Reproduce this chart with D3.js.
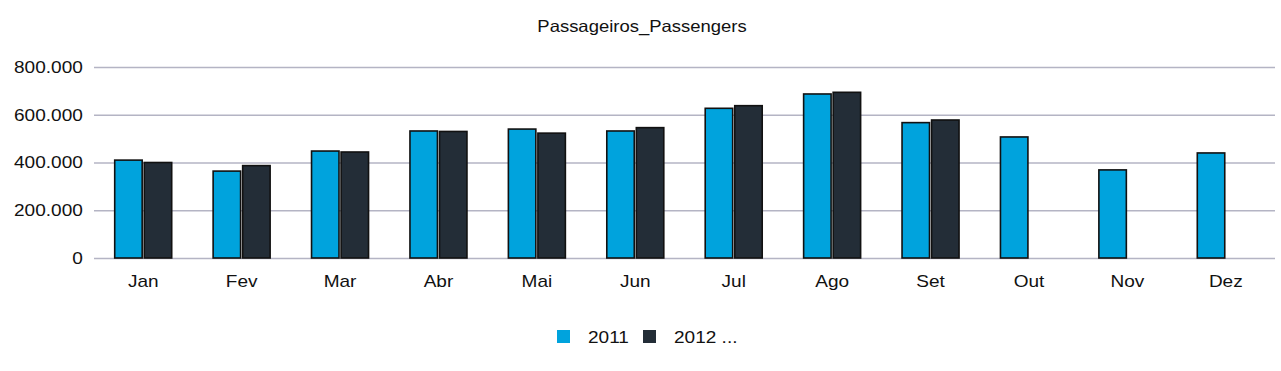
<!DOCTYPE html>
<html><head><meta charset="utf-8">
<script src="https://cdn.jsdelivr.net/npm/d3@7"></script>
<style>body{margin:0;background:#fff;}svg{display:block;font-family:"Liberation Sans",Arial,sans-serif;}</style>
</head><body>
<svg id="c" width="1281" height="371"></svg>
<script>
const categories = ["Jan","Fev","Mar","Abr","Mai","Jun","Jul","Ago","Set","Out","Nov","Dez"];
const seriesNames = ["2011","2012 ..."];
const values2011 = [410000,364000,448000,532000,540000,532000,627000,687000,567000,507000,369000,440000];
const values2012 = [400000,387000,444000,530000,523000,546000,638000,694000,578000,null,null,null];
const yTicks = [0,200000,400000,600000,800000];
const colors = ["#00A3DD","#232D37"];

const svg = d3.select("#c");
const m = {l:94, r:1275, t:67, b:258};
const sx = 1.12;
const x = d3.scaleBand().domain(categories).range([m.l, m.r]);
const y = d3.scaleLinear().domain([0,800000]).range([m.b, m.t]);
const fmt = v => d3.format(",")(v).replace(/,/g,".");

svg.append("text").attr("transform",`translate(642,32) scale(${sx},1)`).attr("text-anchor","middle")
  .attr("font-size",16.5).attr("fill","#111").text("Passageiros_Passengers");

const yAxis = svg.append("g").attr("transform",`translate(${m.l},0)`)
  .call(d3.axisLeft(y).tickValues(yTicks).tickFormat(fmt).tickSize(-(m.r-m.l)).tickPadding(10));
yAxis.select(".domain").remove();
yAxis.selectAll(".tick line").attr("stroke","#b4b4c4").attr("stroke-width",1.3);
yAxis.selectAll(".tick text").attr("font-size",17).attr("fill","#111")
  .attr("font-family","Liberation Sans, Arial, sans-serif").attr("transform",`scale(${sx},1)`);

const xAxis = svg.append("g").attr("transform",`translate(0,${m.b})`)
  .call(d3.axisBottom(x).tickSize(0).tickPadding(17));
xAxis.select(".domain").remove();
xAxis.selectAll(".tick text").attr("font-size",17).attr("fill","#111")
  .attr("font-family","Liberation Sans, Arial, sans-serif").attr("transform",`scale(${sx},1)`);

const sub = d3.scaleBand().domain([0,1]).range([0,57]).paddingInner(0.07);
const off = (x.bandwidth()-57)/2;
const series = [values2011, values2012];
series.forEach((vals,si)=>{
  svg.append("g").selectAll("rect")
    .data(categories.map((c,i)=>({c,v:vals[i]})).filter(d=>d.v!=null))
    .join("rect")
    .attr("x",d=>x(d.c)+off+sub(si))
    .attr("y",d=>y(d.v))
    .attr("width",sub.bandwidth())
    .attr("height",d=>y(0)-y(d.v))
    .attr("fill",colors[si])
    .attr("stroke","#111")
    .attr("stroke-width",1.6);
});

const leg = svg.append("g");
const legX = [557, 643];
seriesNames.forEach((n,i)=>{
  leg.append("rect").attr("x",legX[i]).attr("y",330).attr("width",13).attr("height",13).attr("fill",colors[i]);
  leg.append("text").attr("transform",`translate(${legX[i]+31},343) scale(${sx},1)`)
    .attr("font-size",17).attr("fill","#111").text(n);
});
</script>
</body></html>
